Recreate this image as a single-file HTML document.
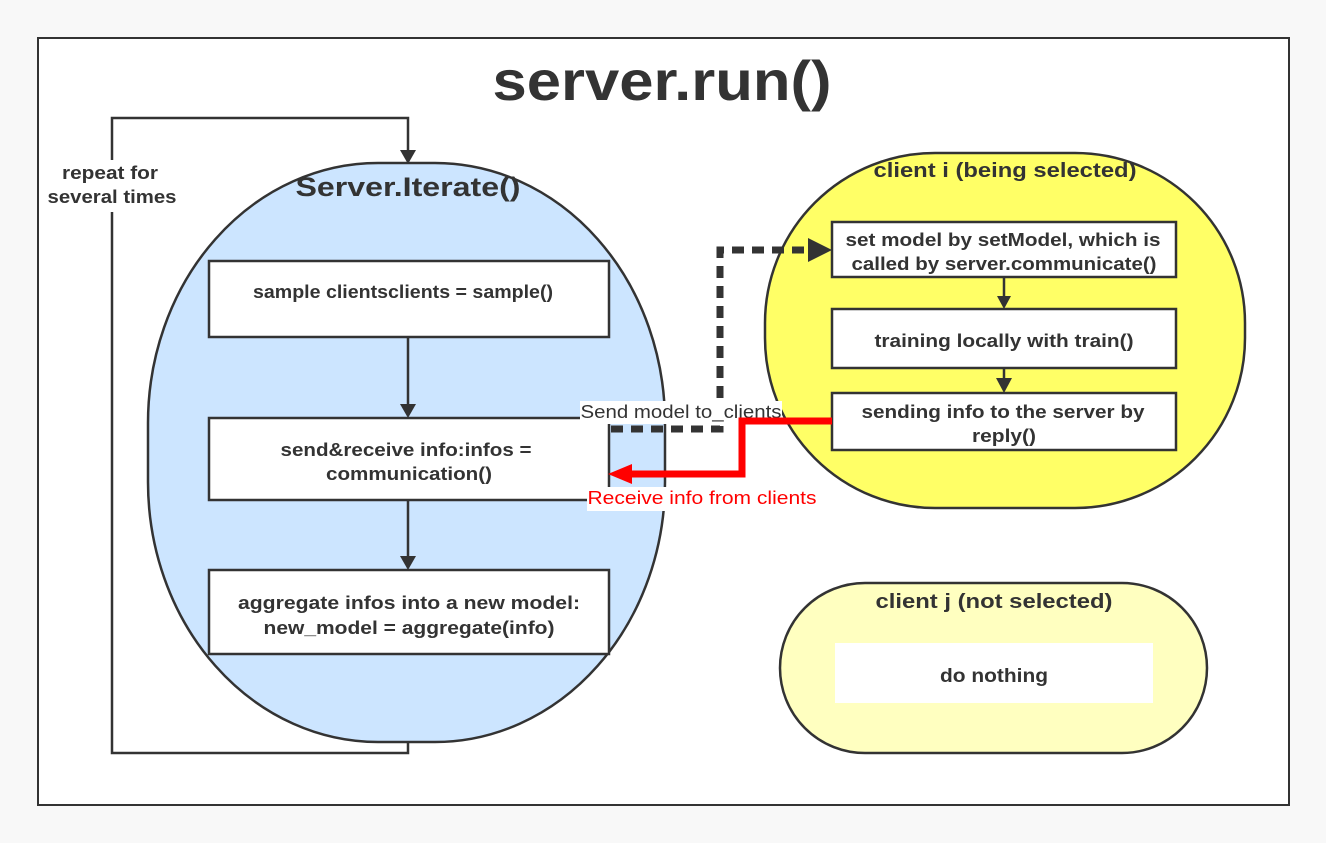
<!DOCTYPE html>
<html><head><meta charset="utf-8"><style>
html,body{margin:0;padding:0;background:#f8f8f8;}
svg{display:block;font-family:"Liberation Sans","Noto Sans CJK SC",sans-serif;}
.b{font-weight:bold;fill:#333;}
</style></head><body>
<svg width="1326" height="843" viewBox="0 0 1326 843">
<rect x="38" y="38" width="1251" height="767" fill="#fff" stroke="#333" stroke-width="2"/>
<text x="662" y="100" text-anchor="middle" class="b" font-size="56" textLength="339" lengthAdjust="spacingAndGlyphs">server.run()</text>

<rect x="148" y="163" width="517" height="579" rx="230" ry="260" fill="#cce5ff" stroke="#333" stroke-width="2.5"/>
<text x="408" y="196" text-anchor="middle" class="b" font-size="27" textLength="225" lengthAdjust="spacingAndGlyphs">Server.Iterate()</text>

<path d="M112,202 V118 H408 V152" fill="none" stroke="#333" stroke-width="2.5"/>
<path d="M400,150 L416,150 L408,164 z" fill="#333"/>
<path d="M112,210 V753 H408 V742" fill="none" stroke="#333" stroke-width="2.5"/>
<rect x="44" y="160" width="136" height="52" fill="#fff"/>
<text x="110" y="179" text-anchor="middle" class="b" font-size="18" textLength="96" lengthAdjust="spacingAndGlyphs">repeat for</text>
<text x="112" y="203" text-anchor="middle" class="b" font-size="18" textLength="129" lengthAdjust="spacingAndGlyphs">several times</text>

<rect x="209" y="261" width="400" height="76" fill="#fff" stroke="#333" stroke-width="2.5"/>
<text x="403" y="298" text-anchor="middle" class="b" font-size="18" textLength="300" lengthAdjust="spacingAndGlyphs">sample clientsclients = sample()</text>
<rect x="209" y="418" width="400" height="82" fill="#fff" stroke="#333" stroke-width="2.5"/>
<text x="406" y="456" text-anchor="middle" class="b" font-size="18" textLength="251" lengthAdjust="spacingAndGlyphs">send&amp;receive info:infos =</text>
<text x="409" y="480" text-anchor="middle" class="b" font-size="18" textLength="166" lengthAdjust="spacingAndGlyphs">communication()</text>
<rect x="209" y="570" width="400" height="84" fill="#fff" stroke="#333" stroke-width="2.5"/>
<text x="409" y="609" text-anchor="middle" class="b" font-size="18" textLength="342" lengthAdjust="spacingAndGlyphs">aggregate infos into a new model:</text>
<text x="409" y="634" text-anchor="middle" class="b" font-size="18" textLength="291" lengthAdjust="spacingAndGlyphs">new_model = aggregate(info)</text>
<line x1="408" y1="337" x2="408" y2="408" stroke="#333" stroke-width="2.5"/>
<path d="M400,404 L416,404 L408,418 z" fill="#333"/>
<line x1="408" y1="500" x2="408" y2="560" stroke="#333" stroke-width="2.5"/>
<path d="M400,556 L416,556 L408,570 z" fill="#333"/>

<rect x="765" y="153" width="480" height="355" rx="170" ry="170" fill="#ffff66" stroke="#333" stroke-width="2.5"/>
<text x="1005" y="177" text-anchor="middle" class="b" font-size="20" textLength="263" lengthAdjust="spacingAndGlyphs">client i (being selected)</text>
<rect x="832" y="222" width="344" height="55" fill="#fff" stroke="#333" stroke-width="2.5"/>
<text x="1003" y="246" text-anchor="middle" class="b" font-size="18" textLength="315" lengthAdjust="spacingAndGlyphs">set model by setModel, which is</text>
<text x="1004" y="270" text-anchor="middle" class="b" font-size="18" textLength="305" lengthAdjust="spacingAndGlyphs">called by server.communicate()</text>
<rect x="832" y="309" width="344" height="59" fill="#fff" stroke="#333" stroke-width="2.5"/>
<text x="1004" y="347" text-anchor="middle" class="b" font-size="18" textLength="259" lengthAdjust="spacingAndGlyphs">training locally with train()</text>
<rect x="832" y="393" width="344" height="57" fill="#fff" stroke="#333" stroke-width="2.5"/>
<text x="1003" y="418" text-anchor="middle" class="b" font-size="18" textLength="283" lengthAdjust="spacingAndGlyphs">sending info to the server by</text>
<text x="1004" y="442" text-anchor="middle" class="b" font-size="18" textLength="64" lengthAdjust="spacingAndGlyphs">reply()</text>
<line x1="1004" y1="277" x2="1004" y2="298" stroke="#333" stroke-width="2.5"/>
<path d="M997,296 L1011,296 L1004,309 z" fill="#333"/>
<line x1="1004" y1="368" x2="1004" y2="382" stroke="#333" stroke-width="2.5"/>
<path d="M996,378 L1012,378 L1004,393 z" fill="#333"/>

<rect x="780" y="583" width="427" height="170" rx="85" ry="85" fill="#ffffc0" stroke="#333" stroke-width="2.5"/>
<text x="994" y="608" text-anchor="middle" class="b" font-size="20" textLength="237" lengthAdjust="spacingAndGlyphs">client j (not selected)</text>
<rect x="835" y="643" width="318" height="60" fill="#fff"/>
<text x="994" y="682" text-anchor="middle" class="b" font-size="19" textLength="108" lengthAdjust="spacingAndGlyphs">do nothing</text>

<path d="M611,429 H720 V250 H810" fill="none" stroke="#333" stroke-width="7" stroke-dasharray="12,8"/>
<path d="M808,238 L832,250 L808,262 z" fill="#333"/>
<rect x="580" y="401" width="202" height="23" fill="#fff"/>
<text x="681" y="418" text-anchor="middle" font-size="18" fill="#333" textLength="201" lengthAdjust="spacingAndGlyphs">Send model to_clients</text>

<path d="M832,421 H742 V474 H630" fill="none" stroke="#f00" stroke-width="7"/>
<path d="M632,464 L608,474 L632,484 z" fill="#f00"/>
<rect x="587" y="487" width="230" height="24" fill="#fff"/>
<text x="702" y="504" text-anchor="middle" font-size="18" fill="#f00" textLength="229" lengthAdjust="spacingAndGlyphs">Receive info from clients</text>
</svg>
</body></html>
